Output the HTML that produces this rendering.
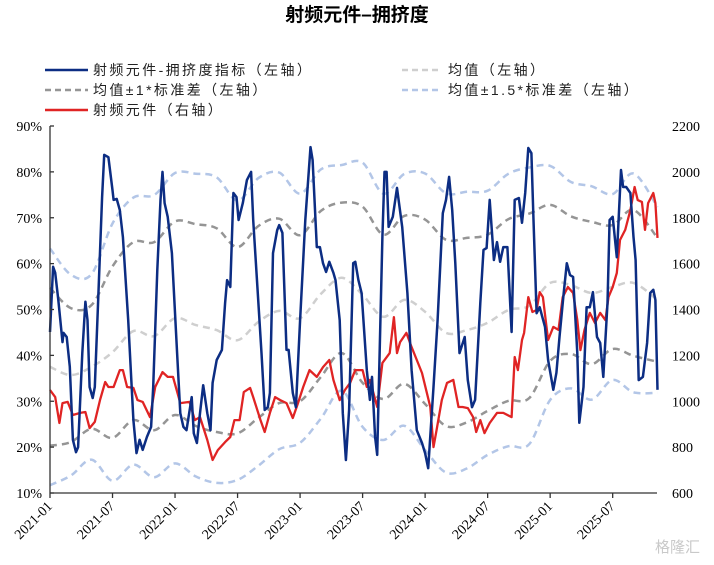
<!DOCTYPE html>
<html><head><meta charset="utf-8">
<style>
html,body{margin:0;padding:0;background:#fff;}
svg{display:block;font-family:"Liberation Serif","Noto Serif CJK SC",serif;}
</style></head>
<body>
<svg id="chart" width="714" height="565" viewBox="0 0 714 565" xmlns="http://www.w3.org/2000/svg">
<text x="357" y="21" text-anchor="middle" font-size="19" font-weight="bold" font-family="'Liberation Sans','Noto Sans CJK SC',sans-serif">射频元件–拥挤度</text>
<g font-size="14" letter-spacing="2.4" font-family="'Liberation Sans','Noto Sans CJK SC',sans-serif" fill="#222">
  <g><line x1="45" y1="70" x2="88" y2="70" stroke="#0c2d83" stroke-width="2.5"/><text x="93" y="75">射频元件-拥挤度指标（左轴）</text></g>
  <g><line x1="402" y1="70" x2="442" y2="70" stroke="#cfcfcf" stroke-width="2.5" stroke-dasharray="6,4"/><text x="448" y="75">均值（左轴）</text></g>
  <g><line x1="45" y1="90" x2="88" y2="90" stroke="#959595" stroke-width="2.5" stroke-dasharray="6,4"/><text x="93" y="95">均值±1*标准差（左轴）</text></g>
  <g><line x1="402" y1="90" x2="442" y2="90" stroke="#b3c6e7" stroke-width="2.5" stroke-dasharray="6,4"/><text x="448" y="95">均值±1.5*标准差（左轴）</text></g>
  <g><line x1="45" y1="110" x2="88" y2="110" stroke="#e02424" stroke-width="2.5"/><text x="93" y="115">射频元件（右轴）</text></g>
</g>
<g id="plot"></g>
<text x="655" y="552" font-size="15" fill="#c9c9c9" font-family="'Liberation Sans','Noto Sans CJK SC',sans-serif">格隆汇</text>
</svg>
<script>
// ---- data ----
const xTickLabels = ["2021-01","2021-07","2022-01","2022-07","2023-01","2023-07","2024-01","2024-07","2025-01","2025-07"];
const leftTickLabels = ["10%","20%","30%","40%","50%","60%","70%","80%","90%"];
const rightTickLabels = ["600","800","1000","1200","1400","1600","1800","2000","2200"];
// month index since 2021-01
const indexT = [0,0.3,0.5,0.8,1.2,1.3,1.6,1.9,2.2,2.5,2.7,3.1,3.4,3.6,3.8,4.1,4.3,4.6,5.0,5.2,5.6,6.0,6.1,6.4,6.7,7.0,7.5,8.0,8.3,8.6,8.9,9.3,9.7,9.9,10.3,10.6,10.8,11.0,11.3,11.7,12.2,12.5,12.8,13.1,13.6,13.8,14.1,14.4,14.7,15.1,15.4,15.6,16.0,16.5,16.8,17.0,17.3,17.6,17.9,18.1,18.5,18.9,19.3,19.5,19.9,20.3,20.6,20.9,21.1,21.4,21.8,22.0,22.3,22.7,22.9,23.3,23.6,24.0,24.5,25.0,25.2,25.6,25.9,26.2,26.5,26.8,27.2,27.4,27.8,28.1,28.4,28.7,29.1,29.3,29.6,29.9,30.4,30.7,30.9,31.2,31.4,31.9,32.1,32.3,32.5,32.9,33.3,33.8,34.3,34.7,35.2,35.7,36.0,36.3,36.8,37.2,37.7,38.0,38.3,38.6,38.9,39.3,39.8,40.1,40.5,40.8,41.3,41.6,41.9,42.2,42.6,42.9,43.2,43.5,43.9,44.3,44.6,45.0,45.3,45.6,45.9,46.2,46.4,46.7,47.0,47.5,47.8,48.3,48.6,48.9,49.3,49.6,49.9,50.2,50.6,50.8,51.2,51.5,51.8,52.1,52.5,52.8,53.1,53.5,53.7,54.0,54.4,54.8,55.0,55.3,55.7,56.0,56.2,56.5,56.9,57.3,57.6,57.9,58.1,58.3];
const indexValues = [45.1,59.3,58.0,52.1,42.9,44.9,44.0,37.5,21.6,18.9,20.0,40.5,51.7,47.7,33.1,30.7,33.1,50.5,74.5,83.7,83.2,76.0,73.9,74.1,71.7,65.8,47.7,25.9,18.7,21.6,19.4,22.2,24.4,33.1,58.6,73.9,80.0,73.2,70.2,62.3,40.5,27.4,24.4,23.7,30.9,23.0,20.9,27.4,33.5,27.4,23.7,34.0,39.0,41.2,51.4,56.4,54.9,75.4,74.5,69.5,73.2,78.2,80.0,69.5,54.9,40.5,28.1,28.7,31.8,62.3,67.3,68.4,66.7,41.2,41.2,31.8,28.7,47.7,69.5,85.4,82.6,63.6,63.6,60.1,58.2,60.4,58.0,56.4,47.7,27.4,17.2,28.1,60.1,60.4,56.4,53.6,36.8,30.3,35.3,22.2,18.3,65.8,80.0,80.0,68.0,70.2,76.5,68.0,53.6,36.8,23.7,20.9,18.7,15.4,33.1,47.7,71.0,73.9,78.9,71.7,60.1,40.5,44.0,34.6,28.7,30.3,51.4,63.0,63.4,73.9,60.8,64.7,60.4,63.6,63.6,45.1,73.9,74.3,68.9,75.4,85.2,84.1,69.5,49.2,50.5,46.2,39.0,32.5,36.2,44.0,53.6,60.1,57.5,57.1,40.5,25.3,33.1,50.5,50.5,53.8,44.0,42.7,35.3,51.4,69.5,70.2,61.4,80.4,76.7,76.7,75.4,65.8,60.8,34.6,35.3,42.7,53.6,54.3,52.1,32.5];
const priceT = [0,0.5,0.9,1.2,1.7,2.2,2.9,3.4,3.8,4.3,4.8,5.3,5.6,6.1,6.7,7.0,7.4,8.0,8.4,8.9,9.6,10.1,10.8,11.3,11.8,12.5,13.4,13.9,14.4,15.1,15.6,16.1,16.8,17.3,17.7,18.2,18.6,19.2,19.5,20.2,20.6,21.1,21.6,22.1,22.7,23.3,23.8,24.3,24.9,25.6,26.2,26.8,27.2,27.8,28.3,28.8,29.3,30.0,30.4,30.7,31.4,31.9,32.6,33.0,33.3,33.6,34.2,34.7,35.2,35.7,36.5,36.8,37.1,37.6,38.1,38.7,39.2,39.6,40.1,40.6,40.9,41.3,41.7,42.2,42.9,43.5,44.3,44.6,44.9,45.3,45.5,45.9,46.3,46.7,47.0,47.3,47.8,48.3,48.8,49.2,49.7,50.2,50.6,50.9,51.3,51.8,52.3,52.8,53.3,53.6,54.0,54.4,54.7,55.2,55.7,56.1,56.4,56.8,57.1,57.4,57.9,58.1,58.3];
const priceValues = [1049,1018,905,992,997,940,949,953,883,910,1005,1084,1062,1062,1136,1136,1062,1058,1005,997,931,1062,1127,1106,1106,992,997,918,931,831,744,787,822,844,918,918,1040,1058,1018,918,866,949,1018,1005,992,927,992,1062,1136,1106,1149,1180,1093,1005,1049,1080,1136,1136,1062,1093,975,1167,1210,1367,1210,1258,1298,1236,1180,1123,975,800,875,1005,1080,1093,975,975,970,931,866,918,861,905,949,949,931,1193,1136,1267,1298,1454,1389,1398,1476,1454,1267,1324,1311,1454,1498,1472,1354,1223,1311,1385,1341,1385,1354,1454,1498,1559,1703,1747,1834,1934,1877,1869,1747,1864,1908,1864,1712];
const bandT = [0,2,4,6,8,10,12,14,16,18,20,22,24,26,28,30,32,34,36,38,40,42,44,46,48,50,52,54,56,58.3];
const meanValues = [37.5,35.7,37.5,40.7,45.3,44.2,48.1,46.6,45.5,43.3,47.3,49.7,48.1,53.4,56.9,53.2,48.4,52.1,49.5,44.9,45.5,47.1,49.9,50.8,55.8,55.3,53.6,54.9,55.8,52.1];
const stdValues = [17.2,14.6,13.5,18.7,19.4,20.5,21.1,22.0,22.2,20.3,20.9,20.1,18.1,18.1,16.4,19.2,17.9,18.3,20.1,20.3,20.1,19.2,19.8,20.1,17.0,15.0,15.5,13.5,15.9,13.5];

// ---- layout ----
const X0=50, X1=657, Y0=493, Y1=126, PXM=10.42;
const xs = t => X0 + t*PXM;
const yL = v => Y0 - (v-10)/80*(Y0-Y1);
const yR = v => Y0 - (v-600)/1600*(Y0-Y1);
const NS="http://www.w3.org/2000/svg";
const plot=document.getElementById('plot');
function mk(tag,attrs,parent){const e=document.createElementNS(NS,tag);for(const k in attrs)e.setAttribute(k,attrs[k]);(parent||plot).appendChild(e);return e;}
function linePath(T,V,fy){return T.map((t,i)=>(i?'L':'M')+xs(t).toFixed(1)+','+fy(V[i]).toFixed(1)).join('');}
function smoothPath(T,V,fy){
  const p=T.map((t,i)=>[xs(t),fy(V[i])]);let d='M'+p[0][0].toFixed(1)+','+p[0][1].toFixed(1);
  for(let i=0;i<p.length-1;i++){const a=p[i-1]||p[i],b=p[i],c=p[i+1],e=p[i+2]||c;
    const c1=[b[0]+(c[0]-a[0])/6,b[1]+(c[1]-a[1])/6],c2=[c[0]-(e[0]-b[0])/6,c[1]-(e[1]-b[1])/6];
    d+='C'+c1[0].toFixed(1)+','+c1[1].toFixed(1)+' '+c2[0].toFixed(1)+','+c2[1].toFixed(1)+' '+c[0].toFixed(1)+','+c[1].toFixed(1);}
  return d;}

// bands
const bands=[
  {k:1.5,c:'#b3c6e7',n:'band-plus-1-5-std'},{k:-1.5,c:'#b3c6e7',n:'band-minus-1-5-std'},
  {k:1,c:'#959595',n:'band-plus-1-std'},{k:-1,c:'#959595',n:'band-minus-1-std'},
  {k:0,c:'#cfcfcf',n:'mean-line'}];
bands.forEach(b=>{
  const vals=meanValues.map((m,i)=>m+b.k*stdValues[i]);
  const el=mk('path',{d:smoothPath(bandT,vals,yL),fill:'none',stroke:b.c,'stroke-width':2.5,'stroke-dasharray':'7,5'});
  
  
});
const pr=mk('path',{d:linePath(priceT,priceValues,yR),fill:'none',stroke:'#e02424','stroke-width':2.3,'stroke-linejoin':'round'});


const ix=mk('path',{d:linePath(indexT,indexValues,yL),fill:'none',stroke:'#0c2d83','stroke-width':2.5,'stroke-linejoin':'round'});



// axes
const ax=mk('g',{stroke:'#333','stroke-width':1.3});


mk('line',{x1:X0,y1:Y1,x2:X0,y2:Y0},ax);
mk('line',{x1:X0,y1:Y0,x2:X1,y2:Y0},ax);
leftTickLabels.forEach((l,i)=>{
  const y=yL(10+i*10);
  mk('line',{x1:X0,y1:y,x2:X0+4,y2:y},ax);
  const t=mk('text',{x:X0-8,y:y+5,'text-anchor':'end','font-size':14,fill:'#000',stroke:'none'});
  t.textContent=l;
  
  
});
rightTickLabels.forEach((l,i)=>{
  const y=yR(600+i*200);
  const t=mk('text',{x:672,y:y+5,'font-size':14,fill:'#000',stroke:'none'});
  t.textContent=l;
  
  
});
xTickLabels.forEach((l,i)=>{
  const x=xs(i*6);
  mk('line',{x1:x,y1:Y0,x2:x,y2:Y0+5},ax);
  const t=mk('text',{x:x+3,y:Y0+14,'text-anchor':'end','font-size':14,fill:'#000',stroke:'none',transform:`rotate(-45 ${x+3} ${Y0+14})`});
  t.textContent=l;
  
  
});
</script>
</body></html>
